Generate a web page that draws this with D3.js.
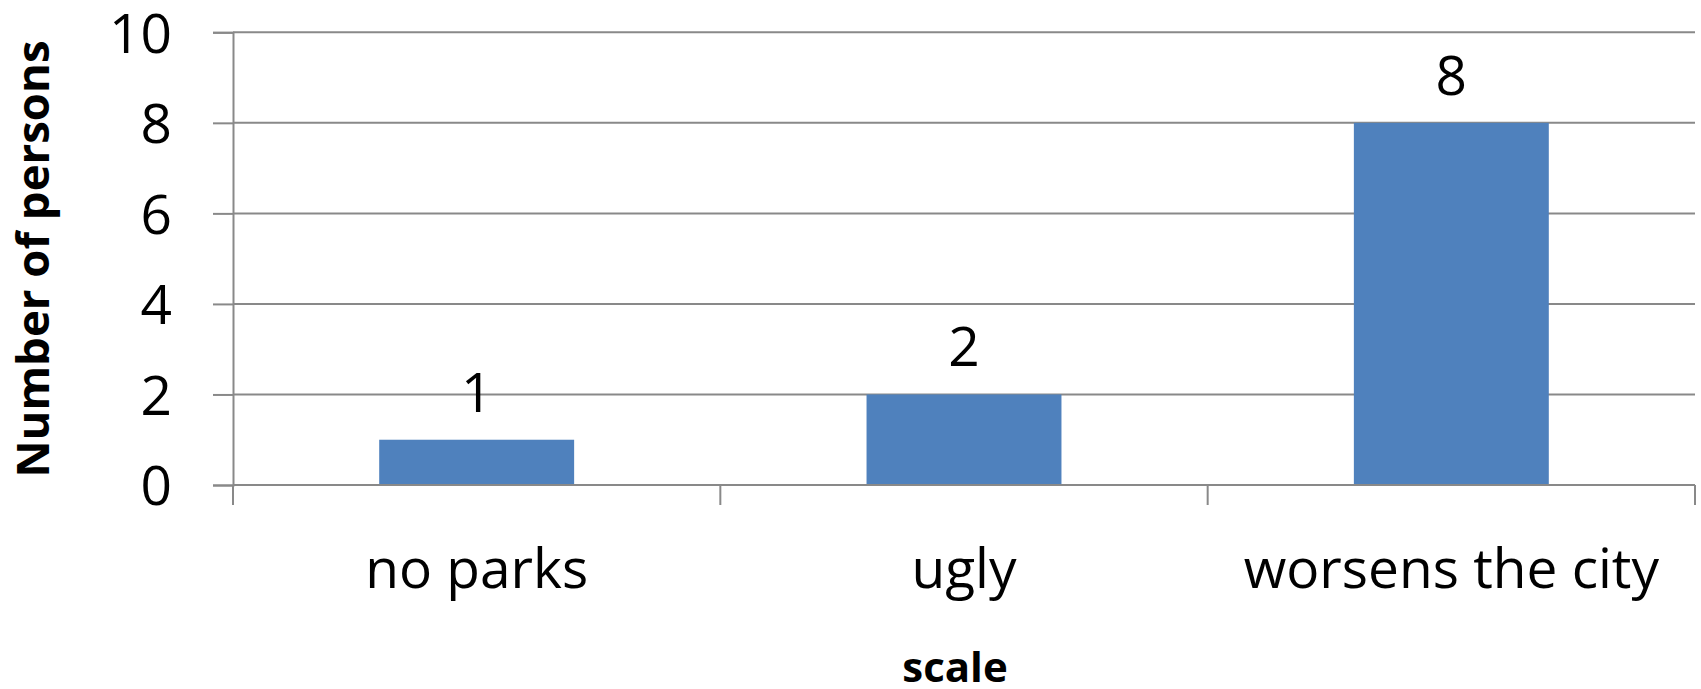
<!DOCTYPE html>
<html>
<head>
<meta charset="utf-8">
<script src="https://cdn.jsdelivr.net/npm/d3@7"></script>
<style>
  html, body { margin: 0; padding: 0; background: #fff; }
  svg { display: block; }
</style>
</head>
<body>
<svg id="chart" width="1701" height="689"></svg>
<script>
const categories = ["no parks", "ugly", "worsens the city"];
const values = [1, 2, 8];
const yTicks = [0, 2, 4, 6, 8, 10];
const yTitle = "Number of persons";
const xTitle = "scale";

const W = 1701, H = 689;
const margin = { left: 233, right: 6, top: 32.3, bottom: 204 };
const font = "'Open Sans', sans-serif";
const gridColor = "#898989";
const barColor = "#4F81BD";

const svg = d3.select("#chart");

const x = d3.scaleBand()
  .domain(categories)
  .range([margin.left, W - margin.right])
  .paddingInner(0.6)
  .paddingOuter(0.3);

const y = d3.scaleLinear()
  .domain([0, 10])
  .range([H - margin.bottom, margin.top]);

// gridlines
svg.append("g")
  .selectAll("line")
  .data(yTicks)
  .join("line")
  .attr("x1", margin.left)
  .attr("x2", W - margin.right)
  .attr("y1", d => y(d))
  .attr("y2", d => y(d))
  .attr("stroke", gridColor)
  .attr("stroke-width", 2);

// y axis
const yAxis = svg.append("g")
  .attr("transform", `translate(${margin.left},0)`)
  .call(d3.axisLeft(y).tickValues(yTicks).tickSize(20).tickPadding(41).tickFormat(d3.format("d")));
yAxis.select(".domain").attr("stroke", gridColor).attr("stroke-width", 2);
yAxis.selectAll(".tick line").attr("stroke", gridColor).attr("stroke-width", 2);
yAxis.selectAll(".tick text")
  .attr("font-family", font)
  .attr("font-size", 55)
  .attr("fill", "#000")
  .attr("dy", "0.36em");

// x axis: tick marks at category boundaries
const step = x.step();
const x0 = x.range()[0];
const boundaries = d3.range(categories.length + 1).map(i => x0 + i * step);
svg.append("g")
  .selectAll("line")
  .data(boundaries)
  .join("line")
  .attr("x1", d => d).attr("x2", d => d)
  .attr("y1", y(0)).attr("y2", y(0) + 20)
  .attr("stroke", gridColor)
  .attr("stroke-width", 2);

// bars
svg.append("g")
  .selectAll("rect")
  .data(values)
  .join("rect")
  .attr("x", (d, i) => x(categories[i]))
  .attr("width", x.bandwidth())
  .attr("y", d => y(d))
  .attr("height", d => y(0) - y(d))
  .attr("fill", barColor);

// baseline on top of bars
svg.append("line")
  .attr("x1", margin.left).attr("x2", W - margin.right)
  .attr("y1", y(0)).attr("y2", y(0))
  .attr("stroke", gridColor).attr("stroke-width", 2);

// value labels
svg.append("g")
  .selectAll("text")
  .data(values)
  .join("text")
  .attr("x", (d, i) => x(categories[i]) + x.bandwidth() / 2)
  .attr("y", d => y(d) - 28)
  .attr("text-anchor", "middle")
  .attr("font-family", font)
  .attr("font-size", 55)
  .attr("fill", "#000")
  .text(d => d);

// category labels
svg.append("g")
  .selectAll("text")
  .data(categories)
  .join("text")
  .attr("x", d => x(d) + x.bandwidth() / 2)
  .attr("y", 588)
  .attr("text-anchor", "middle")
  .attr("font-family", font)
  .attr("font-size", 55)
  .attr("fill", "#000")
  .text(d => d);

// axis titles
svg.append("text")
  .attr("x", 955)
  .attr("y", 682)
  .attr("text-anchor", "middle")
  .attr("font-family", font)
  .attr("font-weight", "bold")
  .attr("font-size", 42)
  .attr("fill", "#000")
  .text(xTitle);

svg.append("text")
  .attr("transform", "translate(49,259) rotate(-90)")
  .attr("text-anchor", "middle")
  .attr("font-family", font)
  .attr("font-weight", "bold")
  .attr("font-size", 45.5)
  .attr("fill", "#000")
  .text(yTitle);
</script>
</body>
</html>
